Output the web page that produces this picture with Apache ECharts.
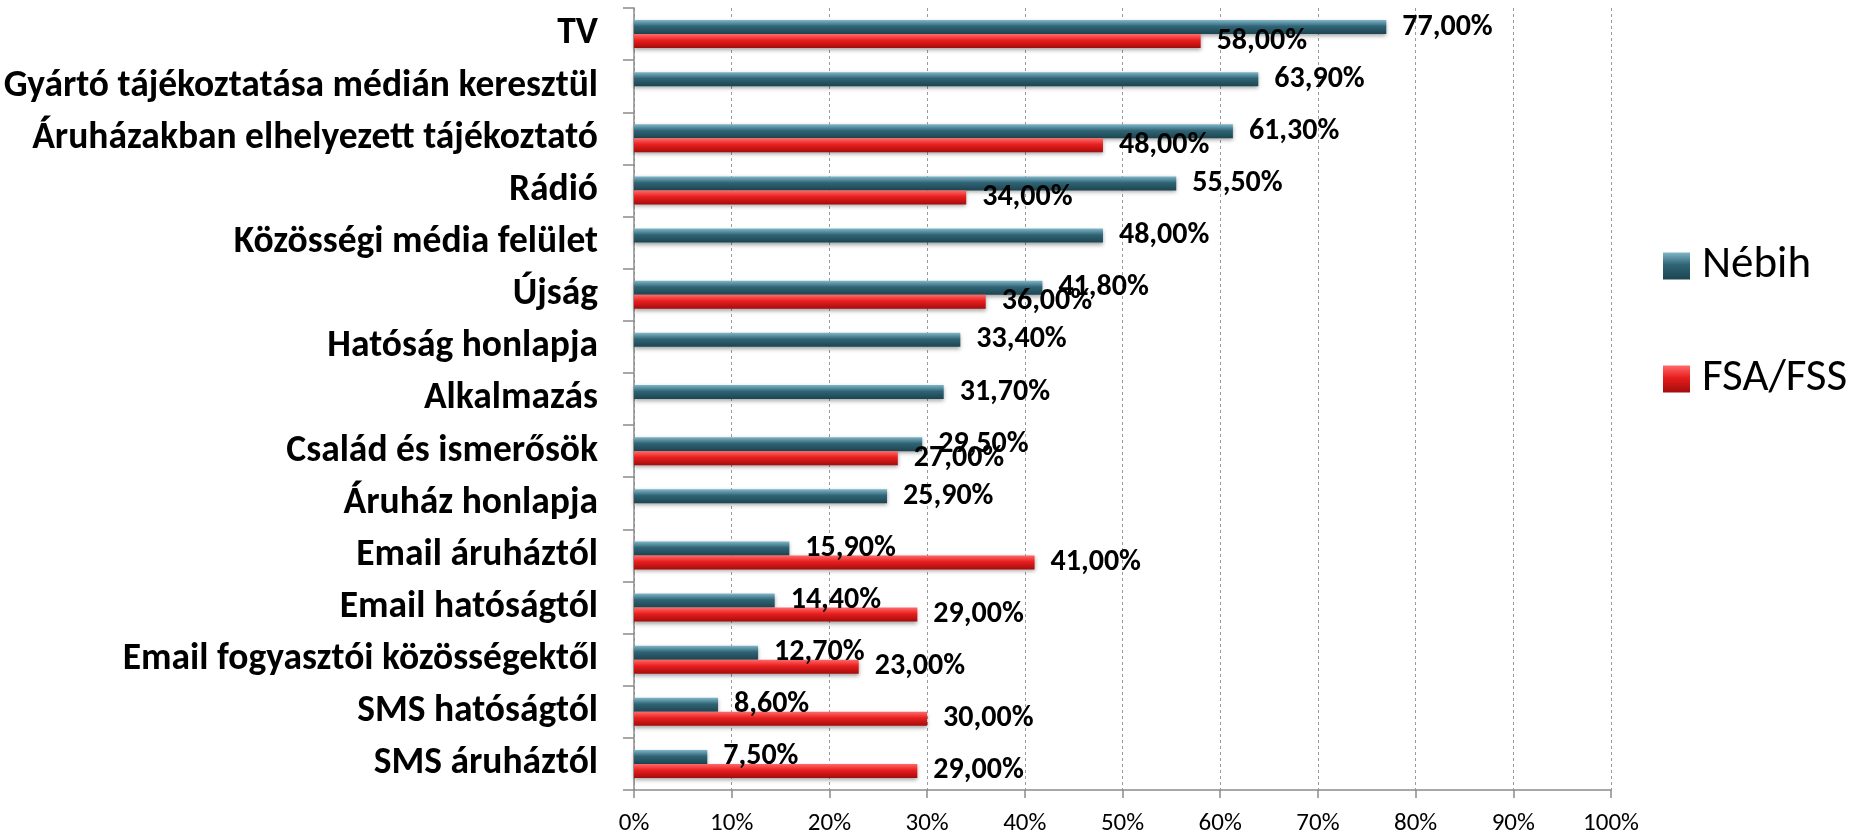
<!DOCTYPE html>
<html>
<head>
<meta charset="utf-8">
<script src="https://cdn.jsdelivr.net/npm/echarts@6/dist/echarts.min.js"></script>
<style>
  html, body { margin: 0; padding: 0; background: #fff; }
  #chart { width: 1862px; height: 834px; }
</style>
</head>
<body>
<div id="chart"></div>
<script>
let categories = [
  'TV',
  'Gyártó tájékoztatása médián keresztül',
  'Áruházakban elhelyezett tájékoztató',
  'Rádió',
  'Közösségi média felület',
  'Újság',
  'Hatóság honlapja',
  'Alkalmazás',
  'Család és ismerősök',
  'Áruház honlapja',
  'Email áruháztól',
  'Email hatóságtól',
  'Email fogyasztói közösségektől',
  'SMS hatóságtól',
  'SMS áruháztól'
]
let nebih = [77.0, 63.9, 61.3, 55.5, 48.0, 41.8, 33.4, 31.7, 29.5, 25.9, 15.9, 14.4, 12.7, 8.6, 7.5]
let fsa = [58.0, null, 48.0, 34.0, null, 36.0, null, null, 27.0, null, 41.0, 29.0, 23.0, 30.0, 29.0]
let xTicks = [0, 10, 20, 30, 40, 50, 60, 70, 80, 90, 100]

let fontFamily = 'Carlito, Calibri, Lato, "Open Sans", sans-serif'

// függőleges színátmenet a "3D" hatáshoz
function grad (top, mid, bottom) {
  return new echarts.graphic.LinearGradient(0, 0, 0, 1, [
    { offset: 0, color: top },
    { offset: 0.45, color: mid },
    { offset: 1, color: bottom }
  ])
}

function pct (p) {
  return p.value.toFixed(2).replace('.', ',') + '%'
}

let labelStyle = {
  show: true,
  position: 'right',
  distance: 16,
  formatter: pct,
  fontFamily: fontFamily,
  fontWeight: 'bold',
  fontSize: 30,
  color: '#000'
}

let chart = echarts.init(document.getElementById('chart'))
chart.setOption({
  animation: false,
  textStyle: { fontFamily: fontFamily },
  grid: { left: 634, right: 251, top: 8, bottom: 44, containLabel: false, outerBoundsMode: 'none' },
  legend: {
    orient: 'vertical',
    left: 1658,
    top: 236,
    itemWidth: 27,
    itemHeight: 27,
    itemGap: 63,
    icon: 'rect',
    textStyle: { fontSize: 45, lineHeight: 50, color: '#000', padding: [0, 0, 0, 7], fontFamily: fontFamily },
    data: ['Nébih', 'FSA/FSS']
  },
  xAxis: {
    type: 'value',
    min: 0,
    max: 100,
    interval: 10,
    axisLine: { show: true, lineStyle: { color: '#8c8c8c', width: 1.5 } },
    axisTick: { show: true, length: 8, lineStyle: { color: '#8c8c8c', width: 1.5 } },
    axisLabel: {
      margin: 21,
      fontSize: 25,
      color: '#000',
      formatter: v => xTicks.indexOf(v) >= 0 ? v + '%' : ''
    },
    splitLine: { show: true, lineStyle: { color: '#9a9a9a', type: [3, 3], width: 1 } }
  },
  yAxis: {
    type: 'category',
    inverse: true,
    data: categories,
    axisLine: { show: true, lineStyle: { color: '#8c8c8c', width: 1.5 } },
    axisTick: { show: true, length: 11, alignWithLabel: false, lineStyle: { color: '#8c8c8c', width: 1.5 } },
    axisLabel: {
      margin: 36,
      fontSize: 37.5,
      fontWeight: 'bold',
      color: '#000'
    }
  },
  series: [
    {
      name: 'Nébih',
      type: 'bar',
      data: nebih,
      barWidth: 14,
      barGap: '0%',
      barCategoryGap: '44%',
      itemStyle: {
        color: grad('#7fb6c8', '#2f6475', '#1d4450'),
        shadowColor: 'rgba(0,0,0,0.35)',
        shadowBlur: 4,
        shadowOffsetY: 2
      },
      label: labelStyle
    },
    {
      name: 'FSA/FSS',
      type: 'bar',
      data: fsa,
      barWidth: 14,
      barGap: '0%',
      itemStyle: {
        color: grad('#ff6a6a', '#e81e1e', '#a30c0c'),
        shadowColor: 'rgba(0,0,0,0.35)',
        shadowBlur: 4,
        shadowOffsetY: 2
      },
      label: labelStyle
    }
  ]
})
</script>
</body>
</html>
